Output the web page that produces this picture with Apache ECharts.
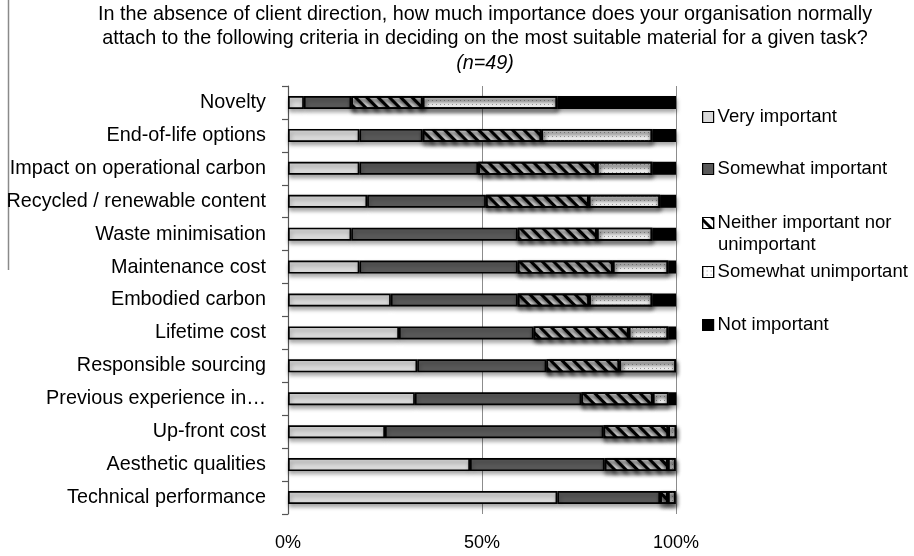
<!DOCTYPE html>
<html>
<head>
<meta charset="utf-8">
<script src="https://cdn.jsdelivr.net/npm/echarts@6/dist/echarts.min.js"></script>
<style>
  html, body { margin: 0; padding: 0; background: #fff; }
  #chart { width: 914px; height: 556px; }
</style>
</head>
<body>
<div id="chart"></div>
<script>
// Criteria, listed top to bottom
const categories = [
  'Novelty',
  'End-of-life options',
  'Impact on operational carbon',
  'Recycled / renewable content',
  'Waste minimisation',
  'Maintenance cost',
  'Embodied carbon',
  'Lifetime cost',
  'Responsible sourcing',
  'Previous experience in…',
  'Up-front cost',
  'Aesthetic qualities',
  'Technical performance'
];

// Share of respondents (%) for each level of importance
const veryImportant       = [4.1, 18.4, 18.4, 20.4, 16.3, 18.4, 26.5, 28.6, 33.3, 32.7, 25.0, 46.9, 69.4];
const somewhatImportant   = [12.2, 16.3, 30.6, 30.6, 42.9, 40.8, 32.7, 34.7, 33.3, 42.9, 56.3, 34.7, 26.5];
const neither             = [18.4, 30.6, 30.6, 26.5, 20.4, 24.5, 18.4, 24.5, 18.8, 18.4, 16.7, 16.3, 2.0];
const somewhatUnimportant = [34.7, 28.6, 14.3, 18.4, 14.3, 14.3, 16.3, 10.2, 14.6, 4.1, 2.1, 2.0, 2.0];
const notImportant        = [30.6, 6.1, 6.1, 4.1, 6.1, 2.0, 6.1, 2.0, 0, 2.0, 0, 0, 0];

const seriesNames = [
  'Very important',
  'Somewhat important',
  'Neither important nor unimportant',
  'Somewhat unimportant',
  'Not important'
];

const xTickLabels = ['0%', '50%', '100%'];

const FONT = 'Liberation Sans';

const stripes = {
  symbol: 'rect', symbolSize: 1,
  dashArrayX: [1, 0], dashArrayY: [2.5, 4.5],
  rotation: Math.PI / 4, color: '#000'
};
const dots = {
  symbol: 'rect', symbolSize: 1,
  dashArrayX: [1, 3], dashArrayY: [1, 3],
  color: '#9a9a9a'
};

const styles = [
  { color: '#d9d9d9' },
  { color: '#595959' },
  { color: '#ffffff', decal: stripes },
  { color: '#ffffff', decal: dots },
  { color: '#000000' }
];

const values = [veryImportant, somewhatImportant, neither, somewhatUnimportant, notImportant];

const series = values.map((arr, i) => ({
  name: seriesNames[i],
  type: 'bar',
  stack: 'total',
  barWidth: 13,
  data: arr.map(v => (v === 0 ? null : v)),
  itemStyle: Object.assign({
    borderColor: '#000',
    borderWidth: 1.7,
    shadowColor: 'rgba(0,0,0,0.35)',
    shadowBlur: 4,
    shadowOffsetX: 1,
    shadowOffsetY: 3
  }, styles[i]),
  emphasis: { disabled: true }
}));

// One legend block per entry so the two-line entry can sit like the others
const legendCenters = [117, 169, 223, 272, 325];
const legendLabels = [
  'Very important',
  'Somewhat important',
  'Neither important nor',
  'Somewhat unimportant',
  'Not important'
];
const legends = seriesNames.map((name, i) => ({
  data: [{ name: name, icon: 'rect' }],
  left: 702,
  top: legendCenters[i] - 10,
  padding: 0,
  itemWidth: 11,
  itemHeight: 11,
  itemGap: 0,
  selectedMode: false,
  formatter: () => legendLabels[i],
  itemStyle: { borderColor: '#000', borderWidth: 1.2, shadowBlur: 0, shadowOffsetX: 0, shadowOffsetY: 0 },
  textStyle: { fontFamily: FONT, fontSize: 18.5, color: '#000', lineHeight: 20, padding: [0, 0, 0, -1] }
}));

const chart = echarts.init(document.getElementById('chart'), null, { renderer: 'canvas' });

chart.setOption({
  animation: false,
  backgroundColor: '#fff',
  title: {
    text: '{a|In the absence of client direction, how much importance does your organisation normally}\n' +
          '{a|attach to the following criteria in deciding on the most suitable material for a given task?}\n' +
          '{i|(n=49)}',
    left: 485,
    top: 3,
    textAlign: 'center',
    padding: 0,
    textStyle: {
      fontWeight: 'normal',
      rich: {
        a: { fontFamily: FONT, fontSize: 19.8, fontWeight: 'normal', color: '#000', lineHeight: 24 },
        i: { fontFamily: FONT, fontSize: 19.8, fontWeight: 'normal', color: '#000', lineHeight: 24, fontStyle: 'italic' }
      }
    }
  },
  legend: legends,
  grid: { left: 288, right: 238, top: 86, bottom: 42, containLabel: false },
  xAxis: {
    type: 'value',
    min: 0,
    max: 100,
    interval: 50,
    axisLine: { show: false },
    axisTick: { show: false },
    splitLine: { show: true, lineStyle: { color: '#8c8c8c', width: 1 } },
    axisLabel: {
      margin: 20,
      fontFamily: FONT,
      fontSize: 18,
      color: '#000',
      formatter: v => xTickLabels[Math.round(v / 50)]
    }
  },
  yAxis: {
    type: 'category',
    inverse: true,
    data: categories,
    axisLine: { show: true, lineStyle: { color: '#555', width: 1.2 } },
    axisTick: { show: true, length: 6, lineStyle: { color: '#555', width: 1.2 } },
    axisLabel: { margin: 22, fontFamily: FONT, fontSize: 19.8, color: '#000' }
  },
  series: series,
  graphic: [
    {
      type: 'line',
      shape: { x1: 8.5, y1: 0, x2: 8.5, y2: 270 },
      style: { stroke: '#8a8a8a', lineWidth: 1.5 }
    },
    {
      type: 'text',
      left: 718,
      top: 235,
      style: { text: 'unimportant', fontFamily: FONT, fontSize: 18.5, fill: '#000' }
    }
  ]
});
</script>
</body>
</html>
